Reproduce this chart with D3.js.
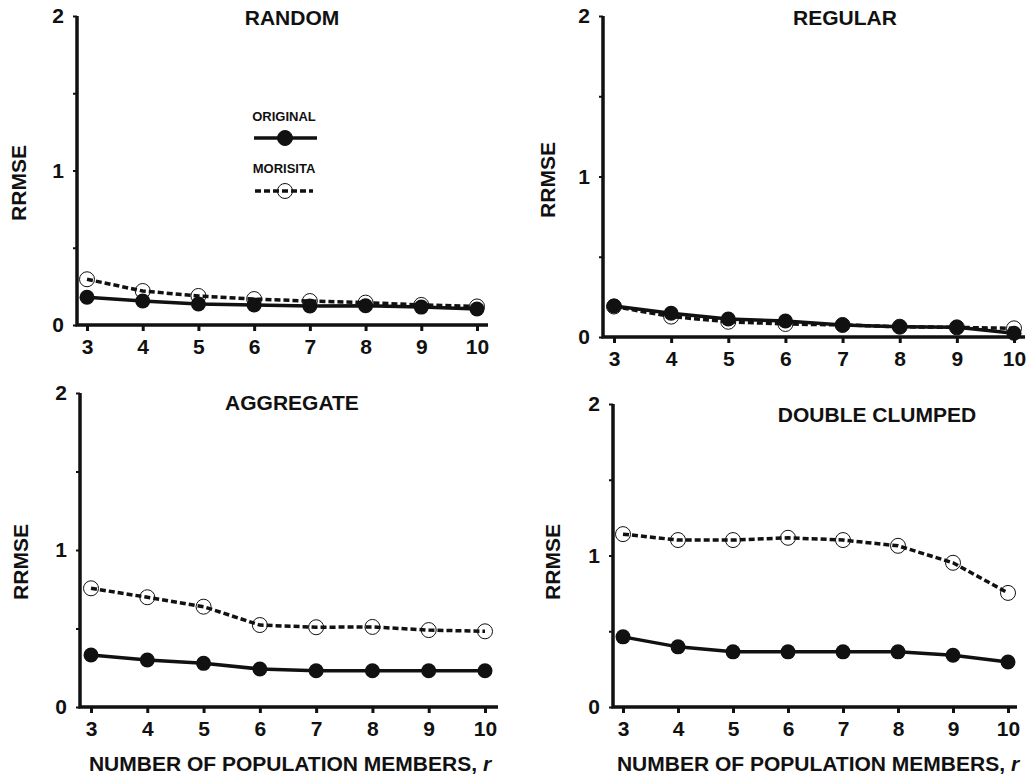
<!DOCTYPE html>
<html>
<head>
<meta charset="utf-8">
<script src="https://cdn.jsdelivr.net/npm/d3@7"></script>
<style>
  body { margin: 0; background: #fff; }
  svg text { font-family: "Liberation Sans", Arial, sans-serif; font-weight: bold; fill: #111; }
</style>
</head>
<body>
<div id="chart"></div>
<script>
// x values shared by every panel
var rValues = [3, 4, 5, 6, 7, 8, 9, 10];
var yTicks = [0, 0.5, 1, 1.5, 2];
var yTickLabels = {0: "0", 1: "1", 2: "2"};
var panelTitles = ["RANDOM", "REGULAR", "AGGREGATE", "DOUBLE CLUMPED"];
var seriesNames = ["ORIGINAL", "MORISITA"];

// RRMSE
var randomOriginal   = [0.18, 0.155, 0.136, 0.13, 0.123, 0.125, 0.116, 0.104];
var randomMorisita   = [0.296, 0.22, 0.188, 0.168, 0.155, 0.145, 0.13, 0.12];
var regularOriginal  = [0.193, 0.148, 0.112, 0.1, 0.075, 0.064, 0.06, 0.023];
var regularMorisita  = [0.19, 0.127, 0.095, 0.081, 0.075, 0.064, 0.06, 0.054];
var aggregateOriginal = [0.331, 0.299, 0.278, 0.242, 0.231, 0.231, 0.231, 0.231];
var aggregateMorisita = [0.756, 0.699, 0.639, 0.522, 0.508, 0.51, 0.49, 0.482];
var doubleOriginal   = [0.463, 0.397, 0.364, 0.364, 0.364, 0.364, 0.342, 0.297];
var doubleMorisita   = [1.141, 1.102, 1.102, 1.117, 1.102, 1.064, 0.952, 0.753];

var panelData = [
  [randomOriginal, randomMorisita],
  [regularOriginal, regularMorisita],
  [aggregateOriginal, aggregateMorisita],
  [doubleOriginal, doubleMorisita]
];

// layout of each panel (pixel frame)
var frames = [
  {ax: 77,  y0: 325, y2: 16,  x3: 87,  x10: 477,  xEnd: 488,  title: [292, 25],  ylab: [18, 183],  xlab: null},
  {ax: 603, y0: 337, y2: 16,  x3: 614, x10: 1014, xEnd: 1025, title: [845, 25],  ylab: [547, 180], xlab: null},
  {ax: 80,  y0: 707, y2: 393, x3: 91,  x10: 485,  xEnd: 498,  title: [292, 410], ylab: [20, 562],  xlab: [290, 771]},
  {ax: 613, y0: 707, y2: 404, x3: 623, x10: 1008, xEnd: 1017, title: [877, 422], ylab: [552, 562], xlab: [818, 771]}
];

var width = 1030, height = 774;

var svg = d3.select("#chart").append("svg")
    .attr("width", width)
    .attr("height", height);

frames.forEach(function(f, p) {
  var x = d3.scaleLinear().domain([3, 10]).range([f.x3, f.x10]);
  var y = d3.scaleLinear().domain([0, 2]).range([f.y0, f.y2]);
  var g = svg.append("g");

  // y axis
  var yAxis = d3.axisLeft(y)
      .tickValues(yTicks)
      .tickSize(4)
      .tickPadding(9)
      .tickFormat(function(d) { return yTickLabels[d] || ""; });
  var ya = g.append("g")
      .attr("transform", "translate(" + f.ax + ",0)")
      .call(yAxis);
  ya.select(".domain").remove();
  ya.selectAll(".tick line").attr("stroke", "#111").attr("stroke-width", 2);
  ya.selectAll(".tick text").style("font-size", "21px");

  // x axis
  var xAxis = d3.axisBottom(x)
      .tickValues(rValues)
      .tickSize(6)
      .tickPadding(8)
      .tickFormat(d3.format("d"));
  var xa = g.append("g")
      .attr("transform", "translate(0," + f.y0 + ")")
      .call(xAxis);
  xa.select(".domain").remove();
  xa.selectAll(".tick line").attr("stroke", "#111").attr("stroke-width", 3);
  xa.selectAll(".tick text").style("font-size", "21px");

  // axis frame lines
  g.append("path")
      .attr("d", "M" + f.ax + "," + f.y2 + "V" + f.y0 + "H" + f.xEnd)
      .attr("fill", "none")
      .attr("stroke", "#111")
      .attr("stroke-width", 3.5);

  var line = d3.line()
      .x(function(d, i) { return x(rValues[i]); })
      .y(function(d) { return y(d); });

  var orig = panelData[p][0], mor = panelData[p][1];

  // MORISITA dashed + open circles
  g.append("path")
      .datum(mor)
      .attr("d", line)
      .attr("fill", "none")
      .attr("stroke", "#111")
      .attr("stroke-width", 3.5)
      .attr("stroke-dasharray", "6,3");
  g.selectAll(".mor")
      .data(mor)
      .enter().append("circle")
      .attr("class", "mor")
      .attr("cx", function(d, i) { return x(rValues[i]); })
      .attr("cy", function(d) { return y(d); })
      .attr("r", 7.5)
      .attr("fill", "none")
      .attr("stroke", "#111")
      .attr("stroke-width", 1);

  // ORIGINAL solid + filled circles
  g.append("path")
      .datum(orig)
      .attr("d", line)
      .attr("fill", "none")
      .attr("stroke", "#111")
      .attr("stroke-width", 3.5);
  g.selectAll(".orig")
      .data(orig)
      .enter().append("circle")
      .attr("class", "orig")
      .attr("cx", function(d, i) { return x(rValues[i]); })
      .attr("cy", function(d) { return y(d); })
      .attr("r", 7.5)
      .attr("fill", "#111");

  // title
  g.append("text")
      .attr("x", f.title[0])
      .attr("y", f.title[1])
      .attr("text-anchor", "middle")
      .style("font-size", "21px")
      .text(panelTitles[p]);

  // y label
  g.append("text")
      .attr("transform", "translate(" + f.ylab[0] + "," + f.ylab[1] + ") rotate(-90)")
      .attr("text-anchor", "middle")
      .attr("dy", "0.36em")
      .style("font-size", "21px")
      .text("RRMSE");

  // x label
  if (f.xlab) {
    var t = g.append("text")
        .attr("x", f.xlab[0])
        .attr("y", f.xlab[1])
        .attr("text-anchor", "middle")
        .style("font-size", "21px");
    t.append("tspan").text("NUMBER OF POPULATION MEMBERS, ");
    t.append("tspan").style("font-style", "italic").text("r");
  }
});

// legend in the first panel
var legend = svg.append("g");
var legendRows = [
  {label: seriesNames[0], ty: 121, ly: 138, x1: 254, x2: 317, dash: null, fill: "#111", sw: 1},
  {label: seriesNames[1], ty: 173, ly: 191, x1: 255, x2: 313, dash: "6,3", fill: "none", sw: 1}
];
legendRows.forEach(function(r) {
  legend.append("text")
      .attr("x", 284)
      .attr("y", r.ty)
      .attr("text-anchor", "middle")
      .style("font-size", "13px")
      .text(r.label);
  legend.append("line")
      .attr("x1", r.x1).attr("x2", r.x2)
      .attr("y1", r.ly).attr("y2", r.ly)
      .attr("stroke", "#111")
      .attr("stroke-width", 3.5)
      .attr("stroke-dasharray", r.dash);
  legend.append("circle")
      .attr("cx", 285)
      .attr("cy", r.ly)
      .attr("r", 7.5)
      .attr("fill", r.fill)
      .attr("stroke", "#111")
      .attr("stroke-width", r.sw);
});
</script>
</body>
</html>
